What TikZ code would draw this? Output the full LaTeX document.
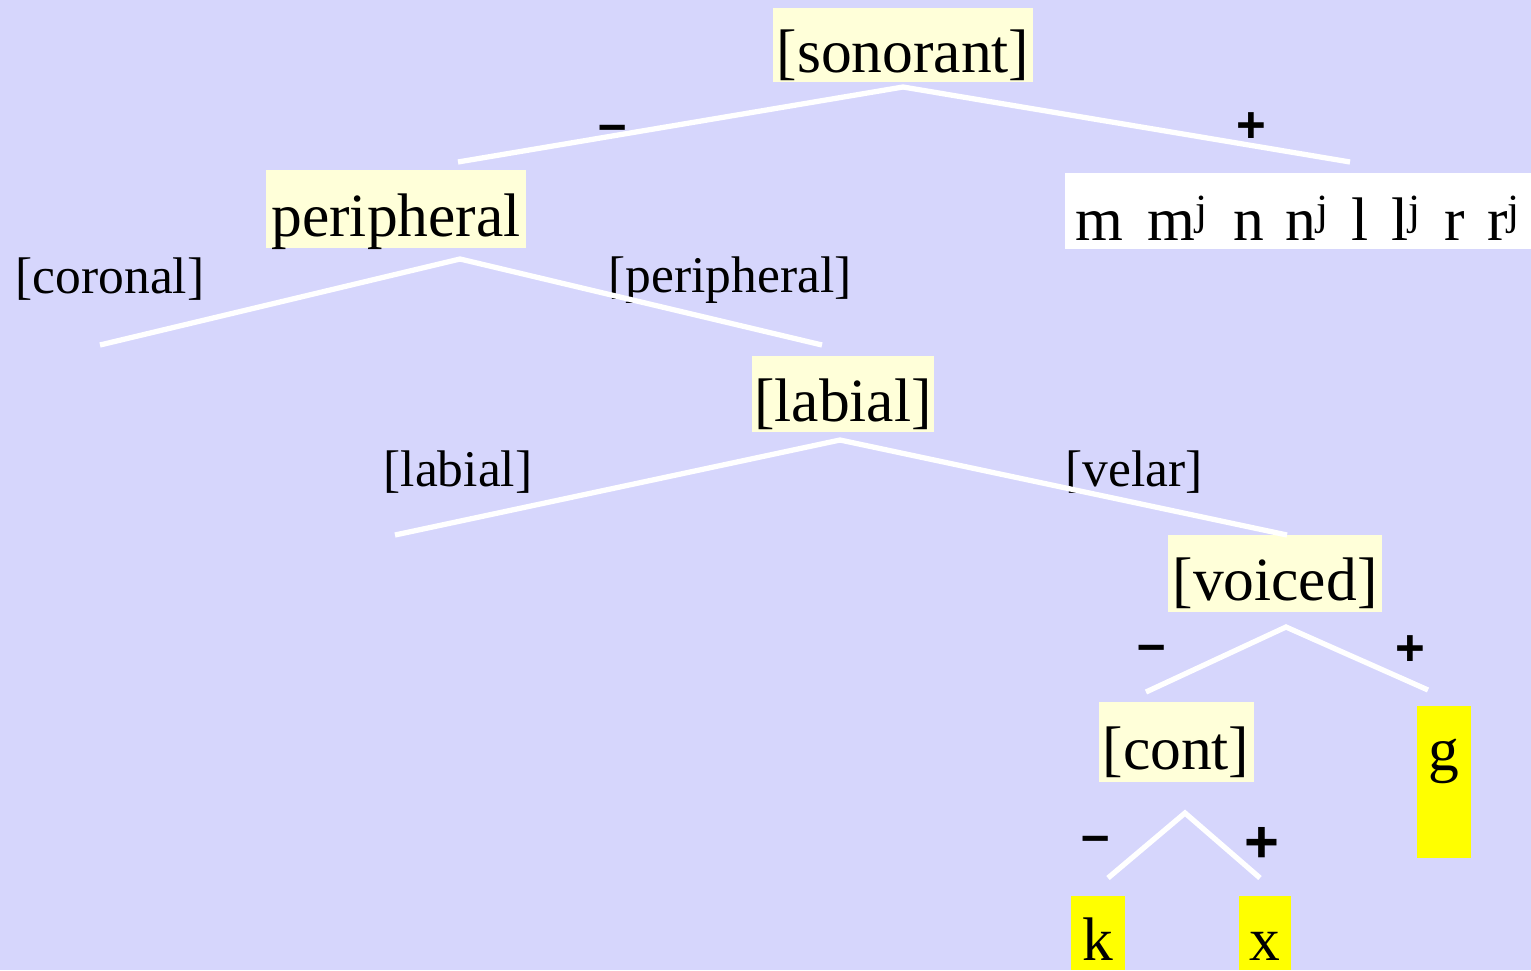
\documentclass[tikz,border=0pt]{standalone}
\usepackage{fontspec}
\setmainfont{Liberation Serif}
\newfontfamily\signfont{Liberation Sans}
\usetikzlibrary{positioning}

\definecolor{bgblue}{RGB}{214,214,252}
\definecolor{featyellow}{RGB}{255,255,217}
\definecolor{segyellow}{RGB}{255,255,0}

\tikzset{
  feature/.style={fill=featyellow, inner sep=0pt, text height=30.8pt, text depth=0pt,
                  font=\fontsize{35}{40}\selectfont},
  dimlabel/.style={inner sep=0pt, font=\fontsize{29.3}{34}\selectfont},
  segment/.style={fill=segyellow, inner sep=0pt, text height=30.8pt, text depth=0pt,
                  font=\fontsize{35}{40}\selectfont},
  sign/.style={inner sep=0pt, font=\signfont\bfseries\fontsize{29}{34}\selectfont},
  branch/.style={draw=white, line width=3pt}
}
\newcommand{\pal}[1]{#1\textsuperscript{j}}

\begin{document}
\begin{tikzpicture}[x=0.02cm, y=-0.02cm]
    % Hintergrund
    \fill[bgblue] (0,0) rectangle (1531,970);
    \useasboundingbox (0,0) rectangle (1531,970);

    % Merkmalsknoten
    \node[feature, minimum width=5.2cm, minimum height=1.48cm] (sonorant) at (903,45) {[sonorant]};
    \node[feature, minimum width=5.2cm, minimum height=1.56cm] (periph) at (396,209) {peripheral};
    \node[feature, minimum width=3.66cm, minimum height=1.52cm] (labial) at (843,394) {[labial]};
    \node[feature, minimum width=4.3cm, minimum height=1.54cm] (voiced) at (1275,573) {[voiced]};
    \node[feature, minimum width=3.1cm, minimum height=1.6cm] (cont) at (1176,742) {[cont]};

    % Sonoranten
    \node[fill=white, inner sep=0pt, minimum width=9.32cm, minimum height=1.54cm] (sonorbox) at (1298,211) {};
    \node[anchor=base west, inner sep=0pt, font=\fontsize{35}{40}\selectfont] (sonor) at (1075,240)
          {m\hspace{0.4em}\pal{m}\hspace{0.4em}n\hspace{0.36em}\pal{n}\hspace{0.36em}l\hspace{0.37em}\pal{l}\hspace{0.38em}r\hspace{0.36em}\pal{r}};

    % Segmente
    \node[segment, minimum width=1.08cm, minimum height=3.04cm, anchor=north] (g) at (1444,706) {};
    \node[font=\fontsize{35}{40}\selectfont, inner sep=0pt, anchor=base] (gtext) at (1444,770) {g};
    \node[segment, minimum width=1.08cm, minimum height=1.48cm, anchor=north] (k) at (1098,896) {k};
    \node[segment, minimum width=1.04cm, minimum height=1.48cm, anchor=north] (x) at (1265,896) {x};

    % Kantenbeschriftungen
    \node[dimlabel] (coronal) at (110,279) {[coronal]};
    \node[dimlabel] (periphlab) at (730,280) {[peripheral]};
    \node[dimlabel] (labiallab) at (458,472) {[labial]};
    \node[dimlabel] (velar) at (1134,472) {[velar]};

    % Vorzeichen
    \node[sign] (son-minus) at (613,133) {–};
    \node[sign] (son-plus) at (1251,128) {+};
    \node[sign] (voi-minus) at (1152,653) {–};
    \node[sign] (voi-plus) at (1410,651) {+};
    \node[sign] (cont-minus) at (1096,844) {–};
    \node[sign, font=\signfont\bfseries\fontsize{34}{38}\selectfont] (cont-plus) at (1262,845) {+};

    % Verzweigungspunkte
    \coordinate (son-top) at (903,87);
    \coordinate (son-l) at (458,162);
    \coordinate (son-r) at (1350,162);
    \coordinate (per-top) at (460,259);
    \coordinate (per-l) at (100,345);
    \coordinate (per-r) at (822,345);
    \coordinate (lab-top) at (840,440);
    \coordinate (lab-l) at (395,535);
    \coordinate (lab-r) at (1287,535);
    \coordinate (voi-top) at (1286,627);
    \coordinate (voi-l) at (1146,692);
    \coordinate (voi-r) at (1428,690);
    \coordinate (cont-top) at (1185,813);
    \coordinate (cont-l) at (1108,878);
    \coordinate (cont-r) at (1260,878);

    % Aeste
    \draw[branch] (son-l) -- (son-top) -- (son-r);
    \draw[branch] (per-l) -- (per-top) -- (per-r);
    \draw[branch] (lab-l) -- (lab-top) -- (lab-r);
    \draw[branch] (voi-l) -- (voi-top) -- (voi-r);
    \draw[branch] (cont-l) -- (cont-top) -- (cont-r);

  \end{tikzpicture}
\end{document}
